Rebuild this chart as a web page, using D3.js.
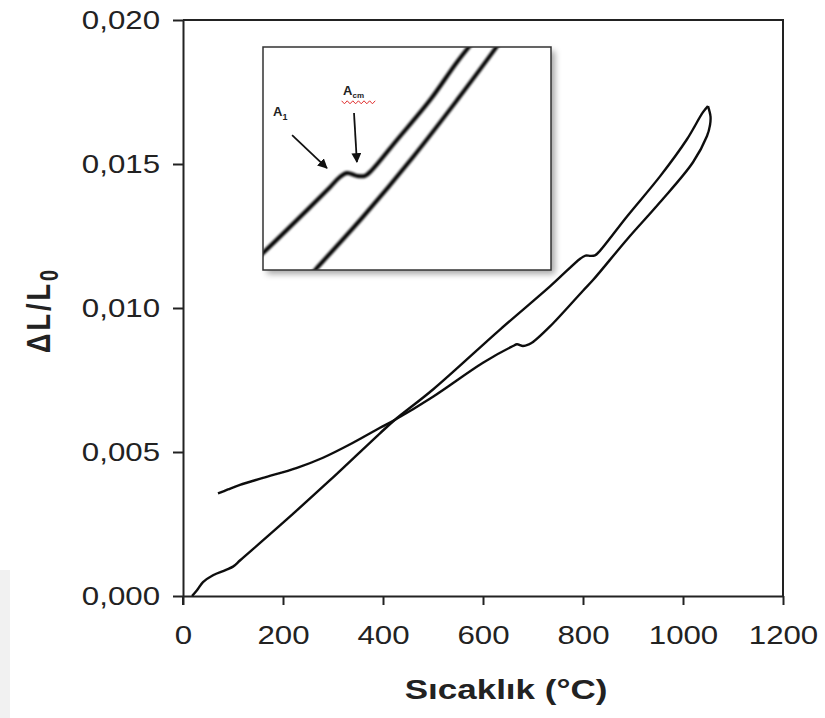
<!DOCTYPE html>
<html>
<head>
<meta charset="utf-8">
<script src="https://cdn.jsdelivr.net/npm/d3@7"></script>
<style>
  body { margin: 0; background: #fff; }
  text { font-family: "Liberation Sans", Arial, sans-serif; fill: #222; }
</style>
</head>
<body>
<svg id="chart" width="825" height="718"></svg>
<script>
// heating run (temperature °C, dL/L0)
const heatingTemp = [18, 28, 40, 60, 85, 100, 115, 194, 294, 394, 424, 500, 634, 734, 795, 805, 815, 824, 832, 888, 954, 1008, 1040, 1050];
const heatingExp  = [0, 0.0002, 0.00048, 0.00072, 0.0009, 0.00102, 0.00125, 0.00245, 0.00402, 0.00565, 0.00612, 0.00717, 0.00925, 0.01075, 0.01172, 0.01182, 0.01181, 0.01183, 0.01195, 0.01318, 0.01457, 0.01586, 0.0168, 0.01701];
// cooling run, from the peak back down
const coolingTemp = [1050, 1055, 1054, 1048, 1020, 954, 888, 820, 800, 734, 700, 692, 680, 668, 660, 600, 500, 424, 394, 340, 280, 228, 160, 114, 90, 70];
const coolingExp  = [0.01701, 0.01665, 0.01635, 0.01597, 0.01506, 0.01367, 0.01238, 0.01097, 0.0106, 0.00936, 0.00882, 0.00874, 0.00868, 0.00874, 0.00868, 0.0081, 0.00692, 0.00612, 0.00584, 0.00532, 0.0048, 0.00445, 0.0041, 0.00386, 0.0037, 0.00356];

const xTicks = [0, 200, 400, 600, 800, 1000, 1200];
const yTicks = [0, 0.005, 0.010, 0.015, 0.020];

// inset (zoomed sketch), arbitrary 0-100 units
const insetUpperX = [-3, 0, 11.8, 23.3, 26.7, 29.2, 32.6, 35.4, 37.8, 46.5, 58, 67.4, 74];
const insetUpperY = [4, 7.6, 22.4, 37.2, 41.7, 43.5, 42.2, 42.2, 44.8, 58.3, 76.2, 93.3, 104];
const insetLowerX = [16.3, 18.1, 34.7, 52.1, 67.4, 77.8, 82.3];
const insetLowerY = [-2.7, 0, 23.8, 50.7, 76.2, 94.2, 102.2];

const svg = d3.select('#chart');
const stretch = 1.25;   // the source figure is stretched sideways

const x = d3.scaleLinear().domain([0, 1200]).range([183, 783]);
const y = d3.scaleLinear().domain([0, 0.02]).range([596, 20]);

const defs = svg.append('defs');
defs.append('filter').attr('id', 'shadow')
  .attr('x', '-10%').attr('y', '-10%').attr('width', '130%').attr('height', '130%')
  .append('feDropShadow').attr('dx', 4).attr('dy', 4).attr('stdDeviation', 3)
  .attr('flood-color', '#000').attr('flood-opacity', 0.35);
defs.append('filter').attr('id', 'soft')
  .append('feGaussianBlur').attr('stdDeviation', 0.6);
defs.append('filter').attr('id', 'soft2')
  .append('feGaussianBlur').attr('stdDeviation', 1);
defs.append('marker').attr('id', 'arrow')
  .attr('viewBox', '0 0 10 10').attr('refX', 9).attr('refY', 5)
  .attr('markerWidth', 5.5).attr('markerHeight', 5.5).attr('orient', 'auto')
  .append('path').attr('d', 'M0,0 L10,5 L0,10 z').attr('fill', '#111');

// faint grey strip at bottom-left of the scan
svg.append('rect').attr('x', 0).attr('y', 570).attr('width', 10).attr('height', 148).attr('fill', '#f1f1f1');

// frame (top + right)
svg.append('path')
  .attr('d', `M${x(0)},${y(0.02)}H${x(1200)}V${y(0)}`)
  .attr('fill', 'none').attr('stroke', '#222').attr('stroke-width', 2);

const fmt = d => d3.format('.3f')(d).replace('.', ',');

const gy = svg.append('g').attr('transform', `translate(${x(0)},0)`)
  .call(d3.axisLeft(y).tickValues(yTicks).tickFormat(fmt).tickSize(10).tickSizeOuter(0).tickPadding(13));
const gx = svg.append('g').attr('transform', `translate(0,${y(0)})`)
  .call(d3.axisBottom(x).tickValues(xTicks).tickFormat(d3.format('d')).tickSize(9).tickSizeOuter(0).tickPadding(21));

[gx, gy].forEach(g => {
  g.select('.domain').attr('stroke', '#222').attr('stroke-width', 2);
  g.selectAll('.tick line').attr('stroke', '#222').attr('stroke-width', 2);
  g.selectAll('.tick text').attr('font-size', 25).attr('fill', '#222')
    .style('font-family', '"Liberation Sans", Arial, sans-serif')
    .attr('transform', `scale(${stretch},1)`);
});
// axisLeft x offset gets scaled too, pull it back
gy.selectAll('.tick text').attr('x', -23 / stretch);
// extend x axis below at zero
gx.append('line').attr('x1', x(0)).attr('x2', x(0)).attr('y1', 0).attr('y2', 9)
  .attr('stroke', '#222').attr('stroke-width', 2);

// axis titles
svg.append('text')
  .attr('transform', `translate(506,699) scale(${stretch},1)`)
  .attr('text-anchor', 'middle').attr('font-size', 28).attr('font-weight', 'bold')
  .text('Sıcaklık (°C)');

const yl = svg.append('text')
  .attr('transform', `translate(50,310) rotate(-90) scale(1,${stretch})`)
  .attr('text-anchor', 'middle').attr('font-size', 27).attr('font-weight', 'bold')
  .attr('letter-spacing', 3);
yl.append('tspan').text('ΔL/L');
yl.append('tspan').attr('font-size', 20).attr('dy', 6).text('0');

// curves
const line = d3.line().x(d => x(d[0])).y(d => y(d[1])).curve(d3.curveCatmullRom.alpha(0.5));
const heating = d3.zip(heatingTemp, heatingExp);
const cooling = d3.zip(coolingTemp, coolingExp);
svg.append('g').attr('filter', 'url(#soft)')
  .selectAll('path').data([heating, cooling]).join('path')
  .attr('d', line).attr('fill', 'none').attr('stroke', '#111').attr('stroke-width', 2.4)
  .attr('stroke-linejoin', 'round');

// inset
const ix = d3.scaleLinear().domain([0, 100]).range([263, 551]);
const iy = d3.scaleLinear().domain([0, 100]).range([270, 47]);
const inset = svg.append('g');
inset.append('rect').attr('x', ix(0)).attr('y', iy(100)).attr('width', ix(100) - ix(0)).attr('height', iy(0) - iy(100))
  .attr('fill', '#fff').attr('filter', 'url(#shadow)');
defs.append('clipPath').attr('id', 'insetClip').append('rect')
  .attr('x', ix(0)).attr('y', iy(100)).attr('width', ix(100) - ix(0)).attr('height', iy(0) - iy(100));
const iline = d3.line().x(d => ix(d[0])).y(d => iy(d[1])).curve(d3.curveCatmullRom.alpha(0.5));
inset.append('g').attr('clip-path', 'url(#insetClip)').append('g').attr('filter', 'url(#soft2)')
  .selectAll('path').data([d3.zip(insetUpperX, insetUpperY), d3.zip(insetLowerX, insetLowerY)]).join('path')
  .attr('d', iline).attr('fill', 'none').attr('stroke', '#000').attr('stroke-width', 4);
inset.append('rect').attr('x', ix(0)).attr('y', iy(100)).attr('width', ix(100) - ix(0)).attr('height', iy(0) - iy(100))
  .attr('fill', 'none').attr('stroke', '#333').attr('stroke-width', 1.5);

// annotations
const a1 = inset.append('text').attr('x', ix(3.5)).attr('y', iy(69)).attr('font-size', 13).attr('font-weight', 'bold');
a1.append('tspan').text('A');
a1.append('tspan').attr('font-size', 9).attr('dy', 4).text('1');
const acm = inset.append('text').attr('x', ix(27.8)).attr('y', iy(78.5)).attr('font-size', 13).attr('font-weight', 'bold');
acm.append('tspan').text('A');
acm.append('tspan').attr('font-size', 8).attr('dy', 3).text('cm');
// spell-check squiggle
const sq = d3.range(0, 13).map(i => [ix(27.3) + i * 2.8, iy(75.2) + (i % 2 ? 1.5 : -1.5)]);
inset.append('path').attr('d', d3.line()(sq)).attr('fill', 'none').attr('stroke', '#e03030').attr('stroke-width', 1);

inset.append('line').attr('x1', ix(10.1)).attr('y1', iy(60.5)).attr('x2', ix(22.2)).attr('y2', iy(45.7))
  .attr('stroke', '#111').attr('stroke-width', 1.8).attr('marker-end', 'url(#arrow)');
inset.append('line').attr('x1', ix(31.6)).attr('y1', iy(70.4)).attr('x2', ix(32.6)).attr('y2', iy(48.4))
  .attr('stroke', '#111').attr('stroke-width', 1.8).attr('marker-end', 'url(#arrow)');
</script>
</body>
</html>
